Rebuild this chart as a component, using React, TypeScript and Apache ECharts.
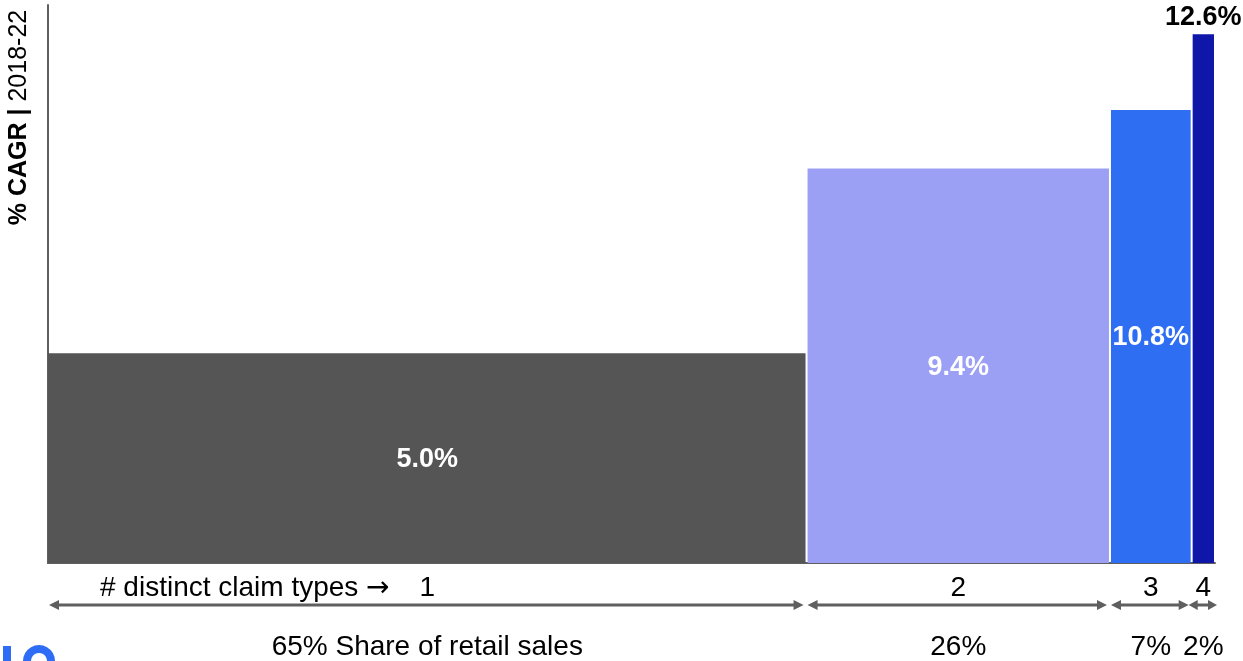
import React, { useEffect, useRef } from "react";
import * as echarts from "echarts";

const categories = ["1", "2", "3", "4"];
const shares = [65, 26, 7, 2];
const cagr = [5.0, 9.4, 10.8, 12.6];
const cagrLabels = ["5.0%", "9.4%", "10.8%", "12.6%"];
const shareLabels = ["65% Share of retail sales", "26%", "7%", "2%"];
const barColors = ["#555555", "#9ba0f5", "#2d6ef3", "#0f17a8"];

const FONT = "'Liberation Sans', Arial, sans-serif";
const GRAY = "#5f5f5f";

export default function App() {
  const ref = useRef<HTMLDivElement>(null);

  useEffect(() => {
    if (!ref.current) return;
    const chart = echarts.init(ref.current, undefined, { renderer: "svg" });

    let acc = 0;
    const data = shares.map((s, i) => {
      const start = acc;
      acc += s;
      return [start, acc, cagr[i], i];
    });

    const renderItem = (params: any, api: any) => {
      const x0 = api.value(0);
      const x1 = api.value(1);
      const v = api.value(2);
      const idx = api.value(3);
      const pTop = api.coord([x0, v]);
      const pBot = api.coord([x1, 0]);
      const left = pTop[0] + (idx > 0 ? 1 : 0);
      const right = pBot[0] - 1;
      const w = right - left;
      const cx = (pTop[0] + pBot[0]) / 2;
      const base = pBot[1];
      const children: any[] = [
        {
          type: "rect",
          shape: { x: left, y: pTop[1], width: w, height: base - pTop[1] },
          style: { fill: barColors[idx] },
        },
      ];
      const inside = w > 50;
      children.push({
        type: "text",
        x: cx,
        y: inside ? (pTop[1] + base) / 2 : pTop[1] - 18,
        style: {
          text: cagrLabels[idx],
          fill: inside ? "#ffffff" : "#000000",
          font: `bold 27px ${FONT}`,
          align: "center",
          verticalAlign: "middle",
        },
      });
      children.push({
        type: "text",
        x: cx,
        y: base + 23,
        style: {
          text: categories[idx],
          fill: "#000",
          font: `28px ${FONT}`,
          align: "center",
          verticalAlign: "middle",
        },
      });
      children.push({
        type: "text",
        x: cx,
        y: base + 82,
        style: {
          text: shareLabels[idx],
          fill: "#000",
          font: `28px ${FONT}`,
          align: "center",
          verticalAlign: "middle",
        },
      });
      // double arrow
      const ay = base + 42;
      const narrow = w < 40;
      const a0 = pTop[0] + (narrow ? -3 : 1);
      const a1 = pBot[0] + (narrow ? 2 : -3);
      const hl = narrow ? 9 : 10;
      const hw = 5;
      children.push({
        type: "line",
        shape: { x1: a0 + hl - 1, y1: ay, x2: a1 - hl + 1, y2: ay },
        style: { stroke: GRAY, lineWidth: 3 },
      });
      children.push({
        type: "polygon",
        shape: { points: [[a0, ay], [a0 + hl, ay - hw], [a0 + hl, ay + hw]] },
        style: { fill: GRAY },
      });
      children.push({
        type: "polygon",
        shape: { points: [[a1, ay], [a1 - hl, ay - hw], [a1 - hl, ay + hw]] },
        style: { fill: GRAY },
      });
      return { type: "group", children };
    };

    chart.setOption({
      animation: false,
      grid: { left: 48, right: 28, top: 5, bottom: 98, containLabel: false },
      xAxis: {
        type: "value",
        min: 0,
        max: 100,
        axisLine: { show: true, onZero: false, lineStyle: { color: GRAY, width: 2 } },
        axisTick: { show: false },
        axisLabel: { show: false },
        splitLine: { show: false },
      },
      yAxis: {
        type: "value",
        min: 0,
        max: 13.3,
        axisLine: { show: true, lineStyle: { color: GRAY, width: 2 } },
        axisTick: { show: false },
        axisLabel: { show: false },
        splitLine: { show: false },
      },
      series: [
        {
          type: "custom",
          renderItem,
          data,
          encode: { x: [0, 1], y: 2 },
          clip: false,
          z: 1,
        },
      ],
      graphic: [
        {
          type: "text",
          x: 16.5,
          y: 117.5,
          rotation: Math.PI / 2,
          style: {
            text: "{b|% CAGR |}{n| 2018-22}",
            align: "center",
            verticalAlign: "middle",
            rich: {
              b: { font: `bold 25px ${FONT}`, fill: "#000" },
              n: { font: `25px ${FONT}`, fill: "#000" },
            },
          },
        },
        {
          type: "text",
          x: 100,
          y: 586,
          style: {
            text: "{t|# distinct claim types }{a|\u2192}",
            align: "left",
            verticalAlign: "middle",
            rich: {
              t: { font: `28px ${FONT}`, fill: "#000" },
              a: { font: `28px 'DejaVu Sans', sans-serif`, fill: "#000" },
            },
          },
        },
        {
          type: "rect",
          shape: { x: 3, y: 646, width: 8, height: 20 },
          style: { fill: "#2f6cf5" },
        },
        {
          type: "ring",
          shape: { cx: 39, cy: 661, r: 16, r0: 8 },
          style: { fill: "#2f6cf5" },
        },
      ],
    });

    return () => chart.dispose();
  }, []);

  return (
    <div
      ref={ref}
      style={{ position: "fixed", left: 0, top: 0, width: 1243, height: 661 }}
    />
  );
}
